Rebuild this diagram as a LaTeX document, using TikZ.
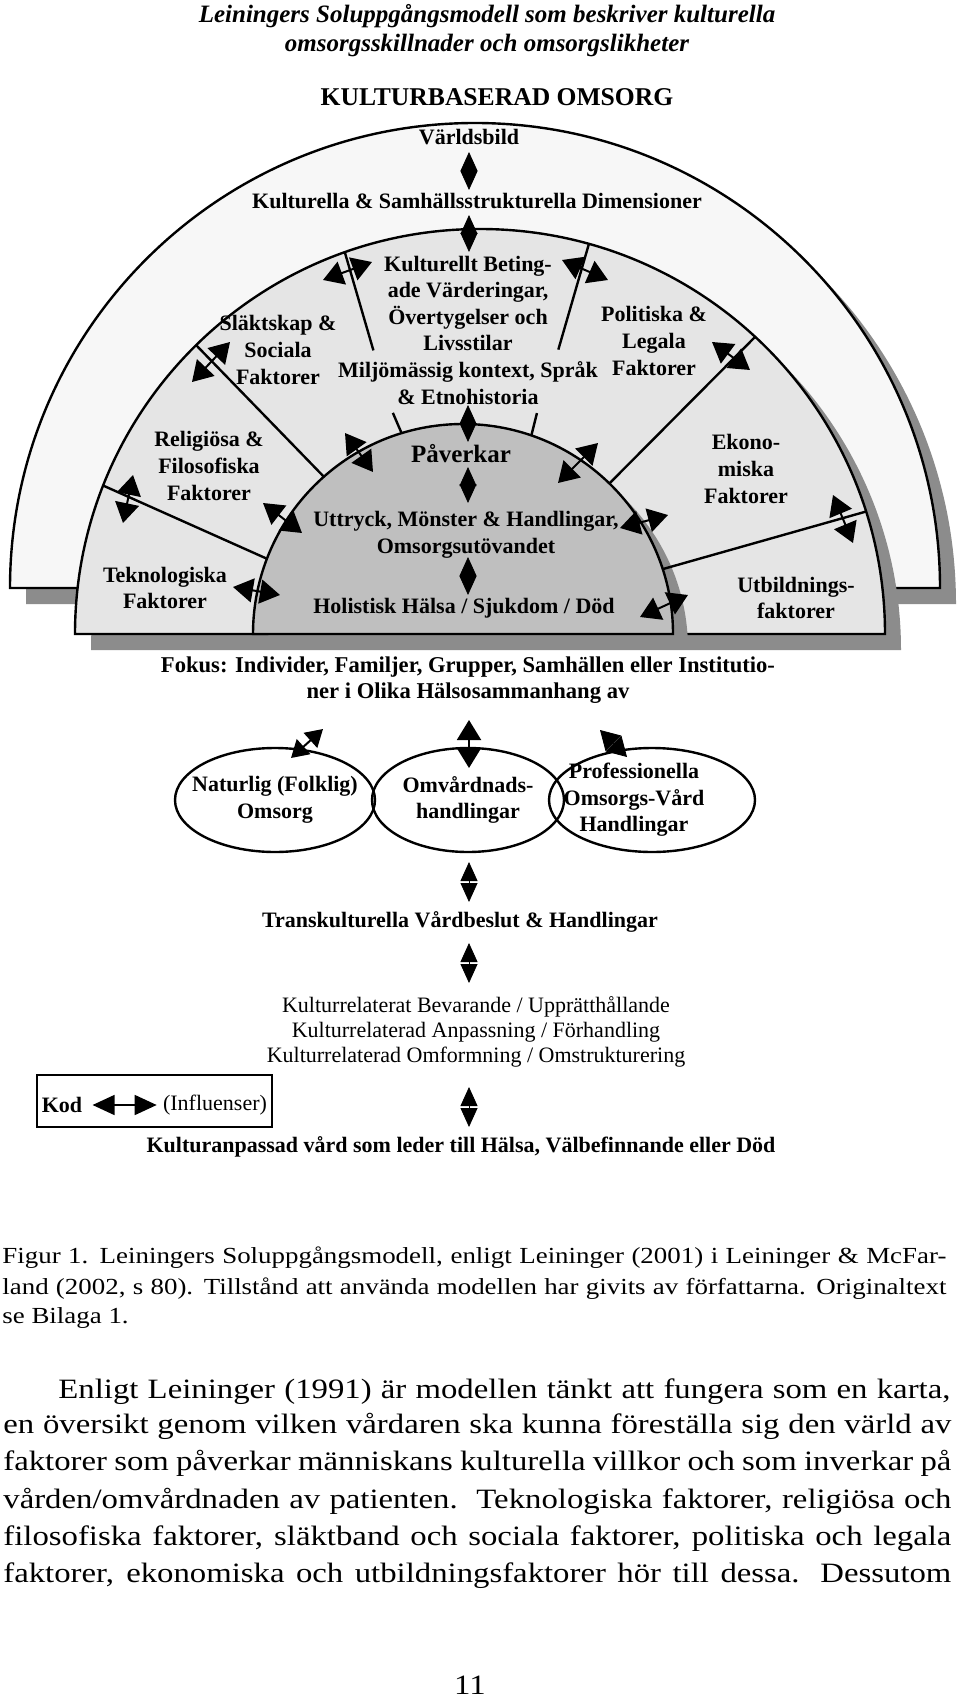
\documentclass[tikz,border=0pt]{standalone}
\usepackage{fontspec}
\setmainfont{Liberation Serif}
\newfontfamily\bodyfont[FakeStretch=1.17]{Liberation Serif}
\usetikzlibrary{arrows.meta,shapes.geometric,positioning}

\tikzset{
  band/.style={line width=1.2pt},
  shadow/.style={fill=black!45},
  infl/.style={{Triangle[length=10pt,width=12pt]}-{Triangle[length=10pt,width=12pt]}, line width=1pt},
  diam/.style={{Triangle[length=9.5pt,width=8.5pt]}-{Triangle[length=9.5pt,width=8.5pt]}},
  lbl/.style={align=center, inner sep=0pt, font=\fontsize{11}{13.3}\selectfont\bfseries},
  care/.style={ellipse, draw, line width=1.2pt, inner sep=0pt},
  txt/.style={anchor=base west, inner sep=0pt}
}

\begin{document}
\begin{tikzpicture}[x=0.5pt,y=0.5pt]
  \useasboundingbox[fill=white] (0,0) rectangle (960,-1701);
  \coordinate (oc) at (475,-588);
  \coordinate (mc) at (480,-634);
  \coordinate (ic) at (463,-634);

  % the rising sun
  \fill[shadow] ([shift={(16,-16)}]oc) ++(-465,0) arc[start angle=180, end angle=0, radius=465] -- cycle;
  \draw[band, fill=black!3] (oc) ++(-465,0) arc[start angle=180, end angle=0, radius=465] -- cycle;
  \fill[shadow] ([shift={(16,-16)}]mc) ++(-405,0) arc[start angle=180, end angle=0, radius=405] -- cycle;
  \draw[band, fill=black!10] (mc) ++(-405,0) arc[start angle=180, end angle=0, radius=405] -- cycle;
  \fill[shadow] ([shift={(15,-15)}]ic) ++(-210,0) arc[start angle=180, end angle=0, radius=210] -- cycle;
  \draw[band, fill=black!25] (ic) ++(-210,0) arc[start angle=180, end angle=0, radius=210] -- cycle;

  \draw[band] ([shift={(158.5:405)}]mc) -- ([shift={(159:210)}]ic);
  \draw[band] ([shift={(134.5:405)}]mc) -- ([shift={(131.5:210)}]ic);
  \draw[band] ([shift={(109.5:405)}]mc) -- ([shift={(110.6:303)}]mc);
  \draw[band] ([shift={(107.6:232)}]ic) -- ([shift={(107:210)}]ic);
  \draw[band] ([shift={(74.4:405)}]mc) -- ([shift={(74.6:295)}]mc);
  \draw[band] ([shift={(71.5:233)}]ic) -- ([shift={(71:210)}]ic);
  \draw[band] ([shift={(47.2:405)}]mc) -- ([shift={(45.8:210)}]ic);
  \draw[band] ([shift={(17.6:405)}]mc) -- ([shift={(18:210)}]ic);

  \node (title) [lbl, font=\fontsize{12.5}{14.5}\selectfont\bfseries\itshape] at (487,-31)
    {Leiningers Soluppgångsmodell som beskriver kulturella\\omsorgsskillnader och omsorgslikheter};
  \node (kultur) [lbl, font=\fontsize{12.8}{15}\selectfont\bfseries] at (497,-97) {KULTURBASERAD OMSORG};
  \node (varld) [lbl] at (469,-137) {Världsbild};
  \node (dimens) [lbl] at (477,-201) {Kulturella \& Samhällsstrukturella Dimensioner};
  \node (varden) [lbl] at (468,-330)
    {Kulturellt Beting-\\ade Värderingar,\\Övertygelser och\\Livsstilar\\Miljömässig kontext, Språk\\\& Etnohistoria};
  \node (slakt) [lbl] at (278,-350) {Släktskap \&\\Sociala\\Faktorer};
  \node (polit) [lbl] at (654,-341) {Politiska \&\\Legala\\Faktorer};
  \node (relig) [lbl] at (209,-466) {Religiösa \&\\Filosofiska\\Faktorer};
  \node (ekon) [lbl] at (746,-469) {Ekono-\\miska\\Faktorer};
  \node (tekn) [lbl] at (165,-588) {Teknologiska\\Faktorer};
  \node (utbild) [lbl] at (796,-598) {Utbildnings-\\faktorer};
  \node (paverk) [lbl, font=\fontsize{12.5}{14}\selectfont\bfseries] at (461,-454) {Påverkar};
  \node (uttryck) [lbl] at (466,-535) {Uttryck, Mönster \& Handlingar,\\Omsorgsutövandet};
  \node (holist) [lbl] at (464,-608) {Holistisk Hälsa / Sjukdom / Död};

  \draw[diam] (469,-152) -- (469,-190);
  \draw[diam] (469,-215) -- (469,-252);
  \draw[diam] (468,-405) -- (468,-442);
  \draw[diam] (468,-467) -- (468,-503);
  \draw[diam] (468,-557) -- (468,-595);

  \draw[infl] (133,-475) -- (123,-523);
  \draw[infl] (230,-342) -- (192,-382);
  \draw[infl] (323,-280) -- (372,-262);
  \draw[infl] (562,-260) -- (608,-280);
  \draw[infl] (712,-342) -- (750,-370);
  \draw[infl] (833,-495) -- (853,-543);
  \draw[infl] (233,-587) -- (280,-595);
  \draw[infl] (263,-503) -- (302,-533);
  \draw[infl] (345,-433) -- (373,-472);
  \draw[infl] (558,-483) -- (598,-443);
  \draw[infl] (620,-528) -- (668,-515);
  \draw[infl] (640,-617) -- (688,-595);

  % focus and the three care systems
  \node (fokus) [lbl, font=\fontsize{11.3}{13}\selectfont\bfseries] at (468,-680)
    {Fokus: Individer, Familjer, Grupper, Samhällen eller Institutio-\\ner i Olika Hälsosammanhang av};
  \node (folk) [care, minimum width=100pt, minimum height=52pt] at (275,-800) {};
  \node (omvard) [care, minimum width=96pt, minimum height=52pt] at (468,-800) {};
  \node (prof) [care, minimum width=103pt, minimum height=52pt] at (652,-800) {};
  \node [lbl] at (folk) {Naturlig (Folklig)\\Omsorg};
  \node [lbl] at (omvard) {Omvårdnads-\\handlingar};
  \node [lbl] at ([xshift=-9]prof.center) {Professionella\\Omsorgs-Vård\\Handlingar};
  \draw[{Triangle[length=8.5pt,width=10pt]}-{Triangle[length=8.5pt,width=10pt]}, line width=1pt] (291,-758) -- (323,-729);
  \draw[infl] (469,-720) -- (469,-768);
  \draw[{Triangle[length=9.5pt,width=11pt]}-{Triangle[length=9.5pt,width=11pt]}] (600,-730) -- (627,-757);

  \draw[diam] (469,-862) -- (469,-902);
  \node (transk) [lbl] at (460,-922) {Transkulturella Vårdbeslut \& Handlingar};
  \draw[diam] (469,-943) -- (469,-983);
  \node (kultrel) [lbl, font=\fontsize{11}{12.5}\selectfont] at (476,-1032)
    {Kulturrelaterat Bevarande / Upprätthållande\\Kulturrelaterad Anpassning / Förhandling\\Kulturrelaterad Omformning / Omstrukturering};
  \draw[diam] (469,-1087) -- (469,-1127);
  \node (result) [lbl] at (461,-1147) {Kulturanpassad vård som leder till Hälsa, Välbefinnande eller Död};

  \node (kodbox) [draw, line width=0.8pt, minimum width=117.5pt, minimum height=26pt] at (154.5,-1101) {};
  \node (kod) [lbl] at (62,-1105) {Kod};
  \node (infl) [lbl, font=\fontsize{11}{12.5}\selectfont] at (215,-1105) {(Influenser)};
  \draw[{Triangle[length=11pt,width=10pt]}-{Triangle[length=11pt,width=10pt]}, line width=0.8pt]
    ([xshift=5]kod.east) -- ([xshift=-3]infl.west);

  % caption and running text
  \node (cap1) [txt, font=\bodyfont\fontsize{11.5}{14}\selectfont] at (2,-1263) {\makebox[472pt][s]{Figur 1. Leiningers Soluppgångsmodell, enligt Leininger (2001) i Leininger \& McFar-}};
  \node (cap2) [txt, font=\bodyfont\fontsize{11.5}{14}\selectfont] at (2,-1294) {\makebox[472pt][s]{land (2002, s 80). Tillstånd att använda modellen har givits av författarna. Originaltext}};
  \node (cap3) [txt, font=\bodyfont\fontsize{11.5}{14}\selectfont] at (2,-1323) {se Bilaga 1.};
  \node (par1) [txt, font=\bodyfont\fontsize{14}{16}\selectfont] at (58,-1398) {\makebox[446pt][s]{Enligt Leininger (1991) är modellen tänkt att fungera som en karta,}};
  \node (par2) [txt, font=\bodyfont\fontsize{14}{16}\selectfont] at (3,-1433) {\makebox[474pt][s]{en översikt genom vilken vårdaren ska kunna föreställa sig den värld av}};
  \node (par3) [txt, font=\bodyfont\fontsize{14}{16}\selectfont] at (3,-1470) {\makebox[474pt][s]{faktorer som påverkar människans kulturella villkor och som inverkar på}};
  \node (par4) [txt, font=\bodyfont\fontsize{14}{16}\selectfont] at (3,-1508) {\makebox[474pt][s]{vården/omvårdnaden av patienten.\ \ Teknologiska faktorer, religiösa och}};
  \node (par5) [txt, font=\bodyfont\fontsize{14}{16}\selectfont] at (3,-1545) {\makebox[474pt][s]{filosofiska faktorer, släktband och sociala faktorer, politiska och legala}};
  \node (par6) [txt, font=\bodyfont\fontsize{14}{16}\selectfont] at (3,-1582) {\makebox[474pt][s]{faktorer, ekonomiska och utbildningsfaktorer hör till dessa. Dessutom}};
  \node (page) [lbl, font=\bodyfont\fontsize{14}{16}\selectfont] at (470,-1685) {11};
\end{tikzpicture}
\end{document}
